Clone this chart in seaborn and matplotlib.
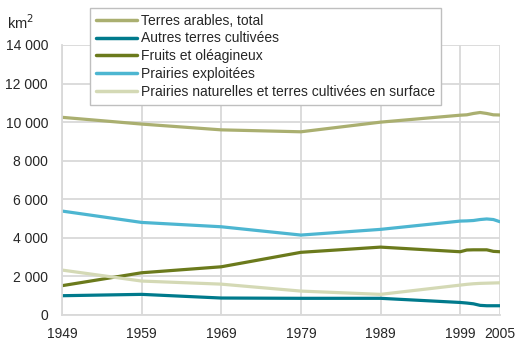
import matplotlib
matplotlib.use("Agg")
import matplotlib.pyplot as plt
import seaborn as sns
import pandas as pd

years = [1949, 1959, 1969, 1979, 1989, 1999, 2000, 2001, 2002, 2003, 2004, 2005]

terres_arables = [10250, 9900, 9600, 9500, 10000, 10360, 10380, 10450, 10500, 10450, 10380, 10370]
autres_terres = [1000, 1070, 880, 865, 865, 650, 620, 580, 500, 480, 480, 480]
fruits_oleagineux = [1520, 2190, 2500, 3250, 3520, 3280, 3370, 3380, 3380, 3380, 3300, 3280]
prairies_exploitees = [5390, 4800, 4575, 4145, 4440, 4870, 4880, 4900, 4950, 4980, 4950, 4835]
prairies_naturelles = [2330, 1760, 1600, 1240, 1070, 1550, 1590, 1620, 1640, 1650, 1660, 1670]

series_names = [
    "Terres arables, total",
    "Autres terres cultivées",
    "Fruits et oléagineux",
    "Prairies exploitées",
    "Prairies naturelles et terres cultivées en surface",
]
colors = ["#AAAF70", "#007A8C", "#6B7A1C", "#4DB6D1", "#D4D9B5"]

tick_years = [1949, 1959, 1969, 1979, 1989, 1999, 2005]
y_ticks = [0, 2000, 4000, 6000, 8000, 10000, 12000, 14000]


def year_pos(y):
    # decades take one step each; the 1999-2005 stretch takes half a step
    if y <= 1999:
        return (y - 1949) / 10
    return 5 + (y - 1999) / 12


values = [terres_arables, autres_terres, fruits_oleagineux,
          prairies_exploitees, prairies_naturelles]
rows = []
for name, vals in zip(series_names, values):
    for yr, v in zip(years, vals):
        rows.append({"pos": year_pos(yr), "value": v, "série": name})
df = pd.DataFrame(rows)

sns.set_style("white")
plt.rcParams["font.family"] = ["Liberation Sans", "DejaVu Sans"]

fig = plt.figure(figsize=(5.17, 3.43), dpi=100)
ax = fig.add_axes([62 / 517, 1 - 315 / 343, (500 - 62) / 517, (315 - 45) / 343])

sns.lineplot(data=df, x="pos", y="value", hue="série", hue_order=series_names,
             palette=colors, linewidth=2.3, ax=ax, sort=False)

ax.set_xlim(0, year_pos(2005))
ax.set_ylim(0, 14000)
ax.set_xticks([year_pos(y) for y in tick_years])
ax.set_xticklabels([str(y) for y in tick_years], fontsize=10)
ax.set_yticks(y_ticks)
ax.set_yticklabels([f"{v:,}".replace(",", " ") for v in y_ticks], fontsize=10)
ax.tick_params(length=0, pad=10)
ax.tick_params(axis="x", pad=9)
ax.set_xlabel("")
ax.set_ylabel("")
ax.grid(True, color="#D9D9D9", linewidth=1.3)
ax.set_axisbelow(True)
for side in ["top", "right"]:
    ax.spines[side].set_visible(False)
for side in ["left", "bottom"]:
    ax.spines[side].set_color("#D9D9D9")
    ax.spines[side].set_linewidth(1.3)

fig.text(7 / 517, 1 - 23 / 343, "km$^2$", fontsize=10.5, va="center", ha="left")

leg = ax.legend(loc="upper left", bbox_to_anchor=(90 / 517, 1 - 8 / 343),
                bbox_transform=fig.transFigure, frameon=True, fancybox=False,
                framealpha=1, edgecolor="#BFBFBF", fontsize=10,
                handlelength=3.0, handletextpad=0.3, labelspacing=0.28,
                borderpad=0.4, borderaxespad=0)
leg.get_frame().set_linewidth(1.0)
for line in leg.get_lines():
    line.set_linewidth(2.5)

fig.savefig("out.png", dpi=100)
